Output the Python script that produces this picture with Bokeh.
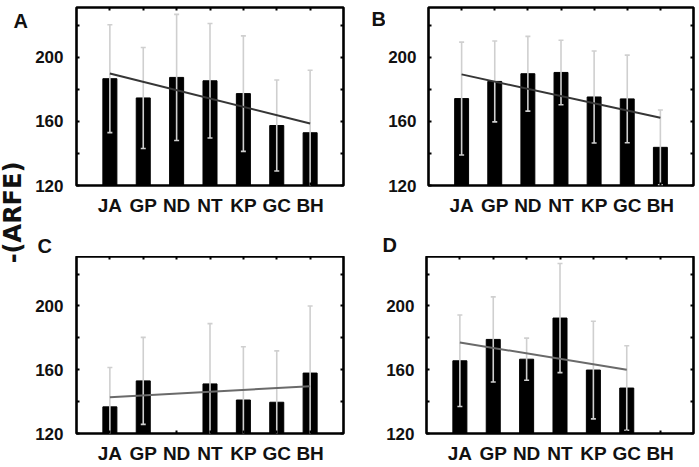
import math
from bokeh.plotting import figure
from bokeh.models import Range1d, FixedTicker, LinearAxis, ColumnDataSource
from bokeh.layouts import row, column
from bokeh.embed import file_html
from bokeh.resources import INLINE
from bokeh.core.properties import value

# ---------------- data ----------------
categories = ["JA", "GP", "ND", "NT", "KP", "GC", "BH"]
y_label = "-(ARFE)"
panel_letters = ["A", "B", "C", "D"]
y_ticks = [120, 160, 200]
y_minor_ticks = [140, 180, 220]

a_mean = [186.6, 174.6, 187.4, 185.3, 177.3, 157.4, 152.9]
a_err = [33.6, 31.5, 39.3, 35.7, 36.0, 28.4, 39.0]
b_mean = [174.2, 184.9, 189.7, 190.5, 175.2, 174.0, 143.8]
b_err = [35.2, 25.2, 23.3, 20.1, 28.7, 27.3, 23.3]
c_mean = [136.7, 153.0, None, 151.1, 141.0, 139.6, 157.9]
c_err = [24.7, 27.3, None, 37.8, 33.4, 32.2, 42.1]
d_mean = [165.6, 179.0, 166.6, 192.4, 159.8, 148.5, None]
d_err = [28.7, 26.7, 13.2, 34.2, 30.6, 26.5, None]

# trend lines: (first category, last category, value at first, value at last)
a_trend = ("JA", "BH", 189.9, 158.7)
b_trend = ("JA", "BH", 189.3, 162.2)
c_trend = ("JA", "BH", 142.7, 149.7)
d_trend = ("JA", "GC", 177.1, 160.0)

Y0, Y1 = 120, 231
FONT = "Liberation Sans"

BAR_COLOR = "black"
ERR_COLOR = "#cfcfcf"


def panel(means, errs, trend, trend_color, width, height, bl, br, bt, bb, x_standoff, y_standoff):
    p = figure(width=width, height=height, x_range=Range1d(0, 8),
               y_range=Range1d(Y0, Y1), toolbar_location=None, title=None,
               output_backend="svg", min_border_left=bl, min_border_right=br,
               min_border_top=bt, min_border_bottom=bb,
               background_fill_color="white", border_fill_color="white")
    p.grid.visible = False
    p.outline_line_color = "black"
    p.outline_line_width = 2.6

    xs, tops, lo, hi = [], [], [], []
    for i, (m, e) in enumerate(zip(means, errs)):
        if m is None:
            continue
        xs.append(i + 1)
        tops.append(m)
        lo.append(m - e)
        hi.append(m + e)
    src = ColumnDataSource(dict(x=xs, top=tops, lo=lo, hi=hi))
    p.vbar(x="x", top="top", bottom=Y0, width=0.42, source=src,
           fill_color=BAR_COLOR, line_color=BAR_COLOR)
    p.segment(x0="x", y0="lo", x1="x", y1="hi", source=src,
              line_color=ERR_COLOR, line_width=1.6)
    p.scatter(x="x", y="hi", source=src, marker="dash", size=5,
              line_color=ERR_COLOR, line_width=1.6)
    p.scatter(x="x", y="lo", source=src, marker="dash", size=5,
              line_color=ERR_COLOR, line_width=1.6)

    c0, c1, v0, v1 = trend
    p.line(x=[categories.index(c0) + 1, categories.index(c1) + 1], y=[v0, v1],
           line_color=trend_color, line_width=2)

    xa = p.xaxis[0]
    xa.ticker = FixedTicker(ticks=list(range(1, len(categories) + 1)))
    xa.major_label_overrides = {i + 1: c for i, c in enumerate(categories)}
    xa.axis_line_color = None
    xa.major_tick_in = 3
    xa.major_tick_out = 0
    xa.major_tick_line_width = 2
    xa.minor_tick_line_color = None
    xa.major_label_standoff = x_standoff
    xa.major_label_text_font = FONT
    xa.major_label_text_font_style = "bold"
    xa.major_label_text_font_size = "19px"
    xa.major_label_text_color = "#111111"

    ya = p.yaxis[0]
    ya.ticker = FixedTicker(ticks=y_ticks, minor_ticks=y_minor_ticks)
    ya.axis_line_color = None
    ya.major_tick_in = 3
    ya.major_tick_out = 0
    ya.minor_tick_in = 3
    ya.minor_tick_out = 0
    ya.major_tick_line_width = 2
    ya.minor_tick_line_width = 2
    ya.major_label_standoff = y_standoff
    ya.major_label_text_font = FONT
    ya.major_label_text_font_style = "bold"
    ya.major_label_text_font_size = "17px"
    ya.major_label_text_color = "#111111"

    top_ax = LinearAxis(ticker=FixedTicker(ticks=list(range(1, len(categories) + 1))),
                        axis_line_color=None,
                        major_tick_in=3, major_tick_out=0, major_tick_line_width=2,
                        minor_tick_line_color=None, major_label_standoff=0,
                        major_label_text_font_size="1px", major_label_text_color=None)
    right_ax = LinearAxis(ticker=FixedTicker(ticks=y_ticks, minor_ticks=y_minor_ticks),
                          axis_line_color=None, major_tick_in=3, major_tick_out=0,
                          minor_tick_in=3, minor_tick_out=0,
                          major_tick_line_width=2, minor_tick_line_width=2,
                          major_label_standoff=0, major_label_text_font_size="1px",
                          major_label_text_color=None)
    p.add_layout(top_ax, "above")
    p.add_layout(right_ax, "right")
    return p


def text_strip(width, height, items):
    # a blank figure whose data units are pixels (y measured down from the top)
    s = figure(width=width, height=height, x_range=Range1d(0, width),
               y_range=Range1d(height, 0), toolbar_location=None, title=None,
               output_backend="svg", x_axis_type=None, y_axis_type=None,
               min_border=0, outline_line_color=None)
    s.grid.visible = False
    for (txt, x, y, font, size, angle, align, baseline) in items:
        s.text(x=[x], y=[y], text=[txt], angle=angle,
               text_font=value(font), text_font_style="bold",
               text_font_size=size, text_align=align,
               text_baseline=baseline, text_color="#111111")
    return s


LW = 32
H = 466
label_fig = text_strip(LW, H, [
    (y_label, 12, 212, "DejaVu Sans", "24px", math.pi / 2, "center", "middle"),
    (panel_letters[0], 13, 20, FONT, "20px", 0, "left", "alphabetic"),
])

pa = panel(a_mean, a_err, a_trend, "#363636", 326, 235, 42, 15, 7, 50, 9, 13)
b_strip = text_strip(27, 235, [
    (panel_letters[1], 13, 15.5, FONT, "20px", 0, "left", "alphabetic"),
])
pb = panel(b_mean, b_err, b_trend, "#363636", 313, 235, 41, 5, 7, 50, 9, 12)

STRIP_H = 21
cd_strip = text_strip(666, STRIP_H, [
    (panel_letters[2], 5, 10, FONT, "20px", 0, "left", "alphabetic"),
    (panel_letters[3], 350, 9, FONT, "20px", 0, "left", "alphabetic"),
])
pc = panel(c_mean, c_err, c_trend, "#6a6a6a", 326, H - 235 - STRIP_H, 42, 15, 0, 32, 9, 13)
pd = panel(d_mean, d_err, d_trend, "#6a6a6a", 340, H - 235 - STRIP_H, 68, 5, 0, 32, 9, 12)

layout = row(label_fig,
             column(row(pa, b_strip, pb),
                    cd_strip,
                    row(pc, pd)))

open("out.html", "w").write(file_html(layout, INLINE))
